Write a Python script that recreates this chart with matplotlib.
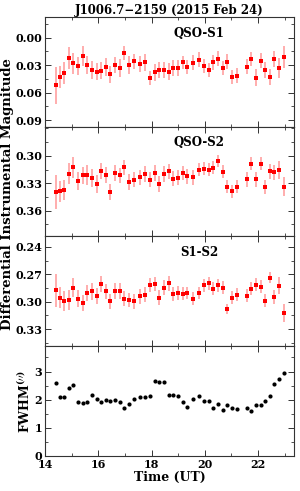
import matplotlib
matplotlib.use("Agg")
import matplotlib.pyplot as plt
from matplotlib.ticker import MultipleLocator
import numpy as np

# observation times (UT hours)
time_ut = [14.40, 14.56, 14.73, 14.90, 15.06, 15.24, 15.41, 15.59, 15.76, 15.94,
           16.10, 16.28, 16.45, 16.63, 16.80, 16.98, 17.15, 17.33, 17.58, 17.77,
           17.94, 18.12, 18.29, 18.47, 18.64, 18.82, 18.99, 19.17, 19.34, 19.54,
           19.79, 19.97, 20.15, 20.32, 20.50, 20.67, 20.85, 21.02, 21.20, 21.57,
           21.75, 21.92, 22.10, 22.27, 22.45, 22.61, 22.79, 22.96]

# QSO - S1 differential magnitude
qso_s1 = [0.0519, 0.0429, 0.0382, 0.0223, 0.0281, 0.0310, 0.0202, 0.0302, 0.0353, 0.0371,
          0.0360, 0.0320, 0.0400, 0.0299, 0.0331, 0.0166, 0.0299, 0.0259, 0.0288, 0.0270,
          0.0439, 0.0378, 0.0353, 0.0353, 0.0371, 0.0331, 0.0331, 0.0270, 0.0320, 0.0274,
          0.0238, 0.0310, 0.0353, 0.0270, 0.0230, 0.0331, 0.0263, 0.0429, 0.0414, 0.0317,
          0.0234, 0.0436, 0.0252, 0.0353, 0.0429, 0.0230, 0.0331, 0.0209]
qso_s1_err = [0.020, 0.012, 0.012, 0.012, 0.0117, 0.0097, 0.011, 0.0099, 0.0099, 0.0094,
              0.0094, 0.0094, 0.009, 0.009, 0.0094, 0.008, 0.0099, 0.0085, 0.009, 0.009,
              0.008, 0.009, 0.009, 0.009, 0.009, 0.009, 0.009, 0.0072, 0.008, 0.008,
              0.0077, 0.008, 0.008, 0.008, 0.008, 0.008, 0.008, 0.008, 0.008, 0.008,
              0.008, 0.009, 0.008, 0.009, 0.009, 0.009, 0.011, 0.0117]

# QSO - S2 differential magnitude
qso_s2 = [0.3396, 0.3389, 0.3371, 0.3196, 0.3125, 0.3279, 0.3214, 0.3207, 0.3243, 0.3307,
          0.3168, 0.3207, 0.3396, 0.3189, 0.3214, 0.3125, 0.3289, 0.3261, 0.3236, 0.3196,
          0.3261, 0.3189, 0.3307, 0.3196, 0.3171, 0.3250, 0.3239, 0.3189, 0.3225, 0.3236,
          0.3150, 0.3139, 0.3150, 0.3129, 0.3057, 0.3175, 0.3339, 0.3386, 0.3339, 0.3257,
          0.3086, 0.3257, 0.3086, 0.3339, 0.3168, 0.3179, 0.3157, 0.3336]
qso_s2_err = [0.0186, 0.0114, 0.011, 0.0116, 0.0116, 0.0098, 0.0095, 0.0107, 0.0098, 0.0095,
              0.009, 0.009, 0.0084, 0.0085, 0.0085, 0.008, 0.0085, 0.0085, 0.0085, 0.0085,
              0.0085, 0.0085, 0.0085, 0.0085, 0.0085, 0.0085, 0.0085, 0.008, 0.008, 0.008,
              0.007, 0.007, 0.007, 0.007, 0.0063, 0.007, 0.007, 0.007, 0.007, 0.008,
              0.007, 0.008, 0.007, 0.008, 0.008, 0.008, 0.0098, 0.0107]

# S1 - S2 differential magnitude
s1_s2 = [0.2877, 0.2957, 0.2989, 0.2978, 0.2845, 0.2967, 0.3014, 0.2906, 0.2888, 0.2935,
         0.2808, 0.2888, 0.2996, 0.2884, 0.2884, 0.2967, 0.2982, 0.2996, 0.2942, 0.2924,
         0.2819, 0.2808, 0.2957, 0.2845, 0.2798, 0.2917, 0.2906, 0.2913, 0.2906, 0.2967,
         0.2906, 0.2823, 0.2798, 0.2859, 0.2823, 0.2848, 0.3076, 0.2957, 0.2924, 0.2935,
         0.2859, 0.2816, 0.2837, 0.2989, 0.2736, 0.2949, 0.2827, 0.3123]
s1_s2_err = [0.018, 0.0117, 0.011, 0.011, 0.0099, 0.009, 0.0085, 0.009, 0.009, 0.009,
             0.0085, 0.0085, 0.0085, 0.0085, 0.0085, 0.008, 0.008, 0.008, 0.008, 0.008,
             0.008, 0.008, 0.008, 0.008, 0.008, 0.008, 0.008, 0.007, 0.007, 0.007,
             0.007, 0.007, 0.007, 0.007, 0.007, 0.007, 0.0054, 0.007, 0.007, 0.007,
             0.007, 0.007, 0.007, 0.007, 0.006, 0.008, 0.0094, 0.0094]

# seeing
fwhm = [2.58, 2.11, 2.08, 2.41, 2.53, 1.91, 1.87, 1.93, 2.16, 2.01,
        1.93, 1.99, 1.96, 2.00, 1.92, 1.72, 1.86, 2.04, 2.09, 2.09,
        2.14, 2.68, 2.61, 2.64, 2.16, 2.16, 2.12, 1.91, 1.74, 2.01,
        2.13, 1.95, 1.95, 1.69, 1.84, 1.62, 1.80, 1.71, 1.67, 1.69,
        1.58, 1.80, 1.80, 1.94, 2.14, 2.54, 2.74, 2.93]

panel_names = ["QSO-S1", "QSO-S2", "S1-S2"]

plt.rcParams['font.family'] = 'DejaVu Serif'
plt.rcParams['font.weight'] = 'bold'
plt.rcParams['mathtext.fontset'] = 'dejavuserif'
plt.rcParams['mathtext.default'] = 'bf'

fig = plt.figure(figsize=(3.0, 4.91), dpi=100)
gs = fig.add_gridspec(4, 1, left=0.15, right=0.98, bottom=0.0713, top=0.966, hspace=0)
axes = [fig.add_subplot(gs[i]) for i in range(4)]

fs = 8
series = [(qso_s1, qso_s1_err), (qso_s2, qso_s2_err), (s1_s2, s1_s2_err)]
ylims = [(0.097, -0.023), (0.388, 0.268), (0.3486, 0.2286)]
yticks = [[0.00, 0.03, 0.06, 0.09], [0.30, 0.33, 0.36], [0.24, 0.27, 0.30, 0.33]]

for i in range(3):
    ax = axes[i]
    vals, errs = series[i]
    ax.errorbar(time_ut, vals, yerr=errs, fmt='none', ecolor='#ff9f9f', elinewidth=1.2)
    ax.plot(time_ut, vals, 's', color='red', markersize=3.2, markeredgewidth=0)
    ax.set_ylim(*ylims[i])
    ax.set_yticks(yticks[i])
    ax.set_yticklabels(["%.2f" % v for v in yticks[i]])
    ax.yaxis.set_minor_locator(MultipleLocator(0.015))
    ax.text(0.62, 0.85, panel_names[i], transform=ax.transAxes, ha='center', va='center',
            fontsize=8.5, fontweight='bold')

ax = axes[3]
ax.plot(time_ut, fwhm, 'o', color='black', markersize=3.0, markeredgewidth=0)
ax.set_ylim(0, 3.9)
ax.set_yticks([0, 1, 2, 3])
ax.yaxis.set_minor_locator(MultipleLocator(0.5))
ax.set_xlabel("Time (UT)", fontsize=9, fontweight='bold', labelpad=1)
ax.set_ylabel(r"FWHM$^{(\prime\prime)}$", fontsize=9, fontweight='bold', labelpad=1)

for ax in axes:
    ax.set_xlim(14, 23.35)
    ax.set_xticks([14, 16, 18, 20, 22])
    ax.xaxis.set_minor_locator(MultipleLocator(1))
    ax.tick_params(which='both', direction='in', top=True, right=True, labelsize=fs, pad=2,
                   color='#333333')
    ax.tick_params(which='major', length=4, width=0.7)
    ax.tick_params(which='minor', length=2, width=0.6)
    for s in ax.spines.values():
        s.set_linewidth(0.8)
        s.set_color('#333333')
    if ax is not axes[3]:
        ax.tick_params(labelbottom=False)

axes[0].set_title("J1006.7\u22122159 (2015 Feb 24)", fontsize=8.5, fontweight='bold', pad=1.5)
fig.text(0.025, 0.605, "Differential Instrumental Magnitude", rotation=90, ha='center',
         va='center', fontsize=9.5, fontweight='bold')

fig.savefig("out.png", dpi=100)
